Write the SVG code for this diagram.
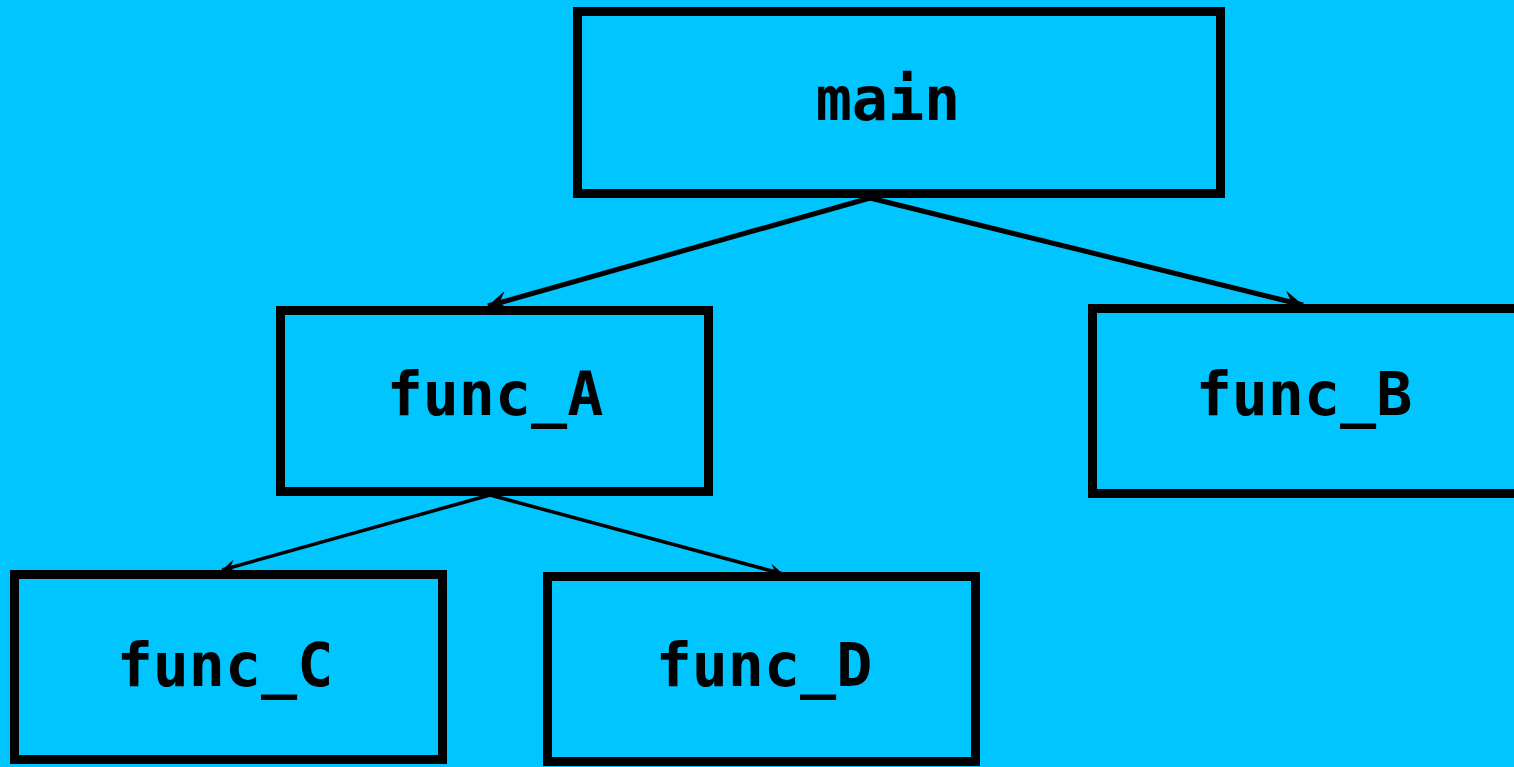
<svg xmlns="http://www.w3.org/2000/svg" width="1514" height="767" viewBox="0 0 1514 767">
  <defs>
    <style>
      .box { fill: none; stroke: #000; stroke-width: 9; }
      .lbl { font-family: "DejaVu Sans Mono", "Liberation Mono", monospace; font-weight: bold; font-size: 60px; fill: #000; text-anchor: middle; }
      .edge { stroke: #000; fill: none; }
    </style>
    <marker id="tip" viewBox="0 0 10 10" refX="10" refY="5" markerWidth="6" markerHeight="4" orient="auto" markerUnits="strokeWidth">
      <path d="M0,0 L10,5 L0,10 L4,5 Z" fill="#000"/>
    </marker>
  </defs>
  <rect width="1514" height="767" fill="#00C5FF"/>

  <g id="connectors">
    <line class="edge" stroke-width="5" x1="870" y1="198" x2="488" y2="306" marker-end="url(#tip)"/>
    <line class="edge" stroke-width="5" x1="870" y1="198" x2="1303" y2="305" marker-end="url(#tip)"/>
    <line class="edge" stroke-width="3.5" x1="490" y1="495" x2="222" y2="570" marker-end="url(#tip)"/>
    <line class="edge" stroke-width="3.5" x1="490" y1="495" x2="783" y2="574" marker-end="url(#tip)"/>
  </g>

  <g id="main">
    <rect class="box" x="577.5" y="11.5" width="643" height="182"/>
    <text class="lbl" x="888" y="120">main</text>
  </g>
  <g id="func_A">
    <rect class="box" x="280.5" y="310.5" width="428" height="181"/>
    <text class="lbl" x="495" y="415">func_A</text>
  </g>
  <g id="func_B">
    <rect class="box" x="1092.5" y="308.5" width="440" height="185"/>
    <text class="lbl" x="1304" y="415">func_B</text>
  </g>
  <g id="func_C">
    <rect class="box" x="14.5" y="574.5" width="428" height="185"/>
    <text class="lbl" x="225" y="686">func_C</text>
  </g>
  <g id="func_D">
    <rect class="box" x="547.5" y="576.5" width="428" height="185"/>
    <text class="lbl" x="764" y="686">func_D</text>
  </g>
</svg>
